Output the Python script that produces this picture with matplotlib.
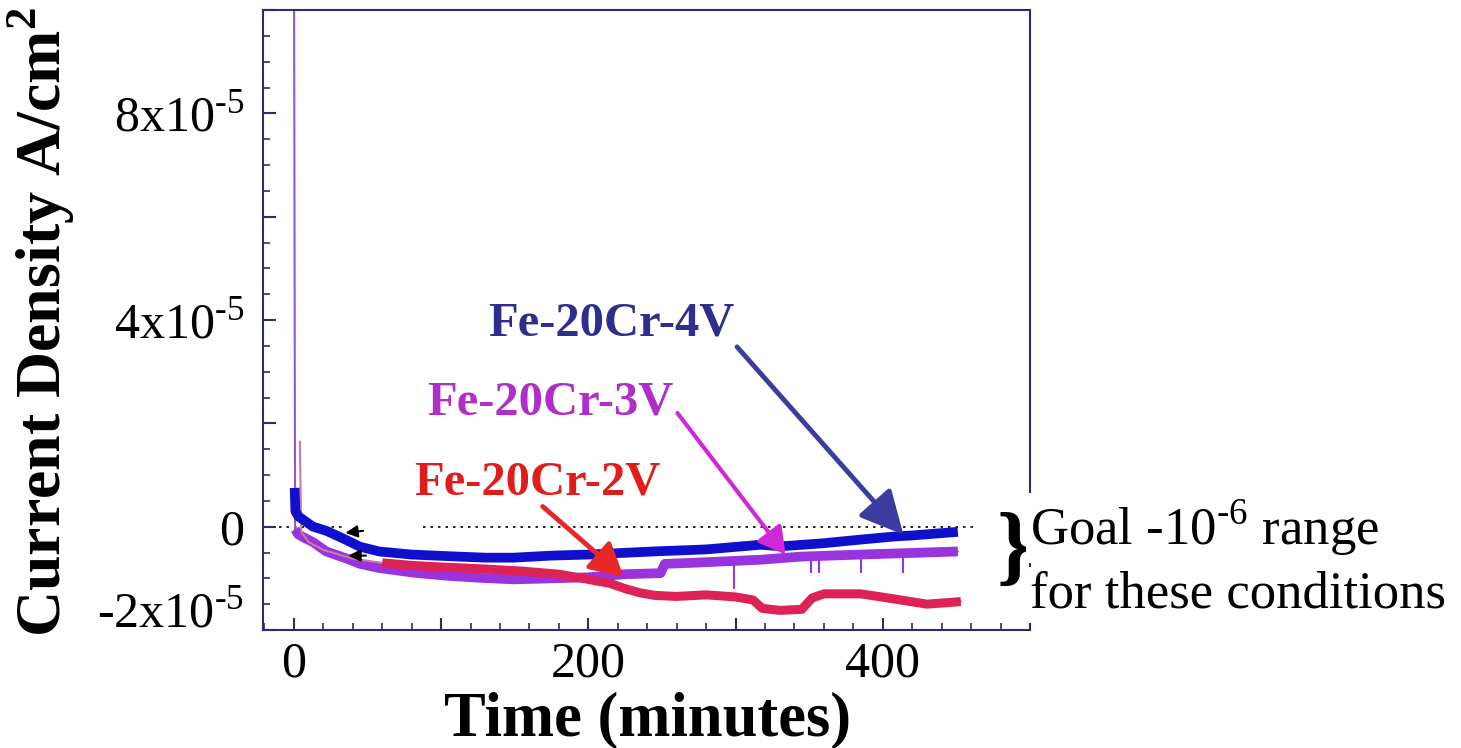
import numpy as np
import matplotlib.pyplot as plt
from matplotlib.ticker import MultipleLocator, FuncFormatter

plt.rcParams['font.family'] = ['Liberation Serif', 'DejaVu Serif']
plt.rcParams['mathtext.fontset'] = 'custom'
plt.rcParams['mathtext.rm'] = 'Liberation Serif'
plt.rcParams['mathtext.bf'] = 'Liberation Serif:bold'

# current density values are in units of 1e-5 A/cm2
t_4v = [0.5, 1, 3, 8, 13, 22, 35, 45, 58, 80, 104, 130, 149, 175, 200, 244, 280, 317, 331, 360, 385, 408, 420, 451]
j_4v = [0.75, 0.3, 0.2, 0.1, 0.0, -0.08, -0.25, -0.39, -0.48, -0.54, -0.57, -0.6, -0.6, -0.56, -0.54, -0.48,
        -0.44, -0.35, -0.38, -0.32, -0.25, -0.19, -0.17, -0.1]

t_3v = [0, 0.8, 3, 6, 13, 22, 36, 45, 58, 81, 104, 127, 149, 175, 200, 225, 249, 252, 270, 317, 344, 385, 451]
j_3v = [12.0, -0.05, -0.15, -0.2, -0.3, -0.48, -0.62, -0.72, -0.8, -0.89, -0.95, -0.99, -1.02, -1.0, -0.98,
        -0.92, -0.9, -0.72, -0.7, -0.64, -0.58, -0.54, -0.48]

t_2v = [4, 5, 10, 20, 40, 60, 80, 100, 130, 155, 180, 200, 215, 225, 235, 245, 260, 280, 300, 312, 318, 330,
        345, 352, 360, 385, 408, 430, 453]
j_2v = [1.64, -0.1, -0.3, -0.45, -0.62, -0.7, -0.75, -0.78, -0.82, -0.86, -0.92, -1.02, -1.1, -1.2, -1.28,
        -1.33, -1.35, -1.32, -1.36, -1.42, -1.58, -1.62, -1.6, -1.38, -1.3, -1.3, -1.4, -1.5, -1.45]

# short downward spikes on the 3V trace
spike_t_3v = [299, 351, 357, 385, 414]
spike_lo_3v = [-1.2, -0.9, -0.9, -0.9, -0.9]
spike_hi_3v = [-0.66, -0.58, -0.58, -0.55, -0.52]

labels = ['Fe-20Cr-4V', 'Fe-20Cr-3V', 'Fe-20Cr-2V']

navy = '#2b2b6e'
c_blue = '#1010cc'
c_purple = '#9933dd'
c_red = '#dd2255'

fig = plt.figure(figsize=(14.61, 7.48), dpi=100)
ax = fig.add_axes([263/1461, 1-630/748, 767/1461, 620/748])

s = 1e-5
t3 = np.array(t_3v); j3 = np.array(j_3v)*s
t2 = np.array(t_2v); j2 = np.array(j_2v)*s
t4 = np.array(t_4v); j4 = np.array(j_4v)*s

ax.plot(t3, j3, color='#9955cc', lw=1.5, zorder=2)
ax.plot(t3[1:], j3[1:], color=c_purple, lw=7, solid_capstyle='butt', zorder=2)
ax.vlines(spike_t_3v, np.array(spike_lo_3v)*s, np.array(spike_hi_3v)*s, color=c_purple, lw=1.5, zorder=2)

ax.plot(t2, j2, color='#c87aa8', lw=1.5, zorder=3)
m = t2 >= 60
ax.plot(t2[m], j2[m], color=c_red, lw=6.5, solid_capstyle='butt', zorder=3)

ax.plot(t4, j4, color=c_blue, lw=7, solid_capstyle='butt', zorder=4)

# zero reference
for a, b in [(-20, 33), (88, 465)]:
    ax.hlines(0, a, b, colors='black', lw=1.2, linestyles=(0, (1.5, 3)), zorder=1)

ax.set_xlim(-21, 500)
ax.set_ylim(-2e-5, 10e-5)

for sp in ax.spines.values():
    sp.set_color(navy)
    sp.set_linewidth(1.5)

ax.xaxis.set_major_locator(MultipleLocator(100))
ax.xaxis.set_minor_locator(MultipleLocator(20))
ax.yaxis.set_major_locator(MultipleLocator(2e-5))
ax.yaxis.set_minor_locator(MultipleLocator(0.5e-5))

def xfmt(v, pos):
    return '%d' % round(v) if round(v) in (0, 200, 400) else ''

ylab = {8: '8x10$^{\\mathregular{\u20105}}$', 4: '4x10$^{\\mathregular{\u20105}}$', 0: '0'}

def yfmt(v, pos):
    k = round(v/1e-5)
    return ylab.get(k, '') if abs(v/1e-5 - k) < 1e-6 else ''

ax.xaxis.set_major_formatter(FuncFormatter(xfmt))
ax.yaxis.set_major_formatter(FuncFormatter(yfmt))
ax.tick_params(which='both', direction='in', color=navy, top=False, right=False, labelsize=36)
ax.tick_params(which='major', length=9, width=1.5)
ax.tick_params(which='minor', length=5, width=1.2)
ax.tick_params(axis='y', pad=13.5)
ax.tick_params(axis='x', pad=8)

ax.annotate('-2x10$^{\\mathregular{\u20105}}$', xy=(0, -2e-5), xycoords=ax.get_yaxis_transform(),
            xytext=(-13.5, 2), textcoords='offset points', ha='right', va='baseline', fontsize=36)

# series labels and arrows
ax.text(215.6, 3.94e-5, labels[0], color='#2e2e8c', fontsize=35, fontweight='bold', ha='center', va='center')
ax.text(174, 2.40e-5, labels[1], color='#b02ec8', fontsize=35, fontweight='bold', ha='center', va='center')
ax.text(165, 0.85e-5, labels[2], color='#e01c1c', fontsize=35, fontweight='bold', ha='center', va='center')

ax.annotate('', xy=(414, -0.155e-5), xytext=(301, 3.48e-5),
            arrowprops=dict(arrowstyle='-|>,head_length=1.2,head_width=0.6', lw=3.5, color='#3b3ba0',
                            mutation_scale=22, shrinkA=0, shrinkB=0), zorder=6)
ax.annotate('', xy=(334, -0.54e-5), xytext=(260.5, 2.2e-5),
            arrowprops=dict(arrowstyle='-|>,head_length=0.8,head_width=0.45', lw=3, color='#d028d8',
                            mutation_scale=20, shrinkA=0, shrinkB=0), zorder=6)
ax.annotate('', xy=(224, -0.97e-5), xytext=(169, 0.39e-5),
            arrowprops=dict(arrowstyle='-|>,head_length=1.0,head_width=0.55', lw=3.5, color='#e82828',
                            mutation_scale=20, shrinkA=0, shrinkB=0), zorder=6)

# small left-pointing markers
ax.annotate('', xy=(35, -0.12e-5), xytext=(47, -0.08e-5),
            arrowprops=dict(arrowstyle='-|>,head_length=0.6,head_width=0.3', lw=1.5, color='black',
                            mutation_scale=12, shrinkA=0, shrinkB=0), zorder=6)
ax.annotate('', xy=(37, -0.56e-5), xytext=(49, -0.56e-5),
            arrowprops=dict(arrowstyle='-|>,head_length=0.6,head_width=0.3', lw=1.5, color='black',
                            mutation_scale=12, shrinkA=0, shrinkB=0), zorder=6)

fig.text(41/1461, 1-322/748, r'Current Density A/cm$^{\mathbf{2}}$', rotation=90, fontsize=46,
         fontweight='bold', ha='center', va='center')
fig.text(648/1461, 1-735/748, 'Time (minutes)', fontsize=45, fontweight='bold', ha='center', va='baseline')

fig.text(1014/1461, 1-553/748, '}', fontsize=64, fontweight='bold', ha='center', va='center')
fig.text(1030/1461, 1-545/748, 'Goal -10$^{\\mathregular{\u20106}}$ range', fontsize=38, ha='left',
         va='baseline', bbox=dict(fc='white', ec='none', pad=3))
fig.text(1030/1461, 1-608/748, 'for these conditions', fontsize=38, ha='left', va='baseline',
         bbox=dict(fc='white', ec='none', pad=3))

fig.savefig('out.png', dpi=100)
